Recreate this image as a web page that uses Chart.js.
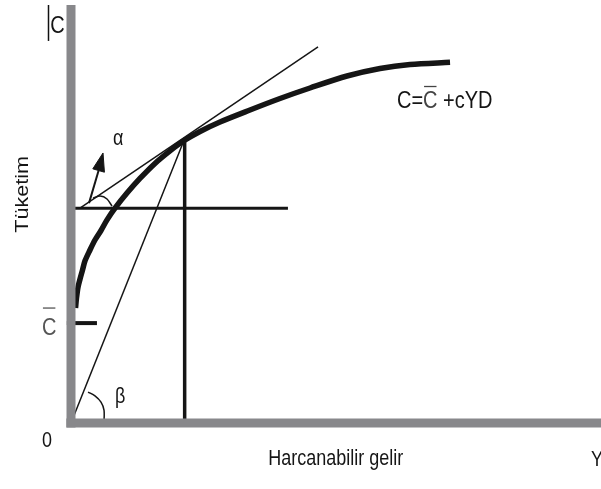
<!DOCTYPE html>
<html><head><meta charset="utf-8">
<script src="https://cdn.jsdelivr.net/npm/chart.js@4.4.0/dist/chart.umd.min.js"></script>
<style>html,body{margin:0;padding:0;background:#fff;}canvas{display:block;}</style>
</head><body>
<canvas id="c" width="601" height="489"></canvas>
<script>
// Consumption function C = C̄ + cYD  (x: disposable income YD, y: consumption C)
const curveYD = [0.87, 1.06, 1.35, 1.73, 2.22, 2.70, 3.66, 4.62, 5.78, 6.94, 8.48, 10.79, 13.29, 16.18, 19.08, 21.58, 24.86, 28.71, 34.49, 40.27, 46.05, 53.18, 59.54, 65.32, 73.03];
const curveC  = [27.5, 29.9, 32.5, 34.4, 36.6, 38.8, 41.4, 43.78, 46.05, 48.6, 51.4, 55.0, 58.5, 62.1, 65.1, 67.4, 69.74, 72.01, 74.88, 77.63, 80.14, 83.01, 84.81, 85.77, 86.29];
const tangentYD = [1.73, 47.6];
const tangentC  = [51.4, 90.0];
const rayYD = [0, 21.7];
const rayC  = [0, 67.4];
const dropYD = [21.9, 21.9];
const dropC  = [67.4, 0];
const levelYD = [0.2, 41.8];
const levelC  = [51.4, 51.4];
const autonomousYD = [-0.8, 5.0];
const autonomousC  = [23.9, 23.9];
const arrowYD = [3.47, 5.32];
const arrowC  = [52.6, 60.4];
const arrowHeadYD = [6.17, 4.20, 6.44, 6.17];
const arrowHeadC  = [64.6, 60.8, 60.0, 64.6];
const alphaArcYD = [4.24, 5.59, 6.94, 7.90];
const alphaArcC  = [53.8, 54.3, 53.6, 51.9];
const betaArcYD = [3.28, 4.62, 5.78, 6.36, 6.36];
const betaArcC  = [7.4, 6.5, 5.0, 3.1, 0.2];
const xAxisYD = [-0.9, 103];
const xAxisC  = [0, 0];
const yAxisYD = [0, 0];
const yAxisC  = [-1.1, 100];

// texts
const axisNames = ['C', 'Y', '0'];
const axisTitles = ['Tüketim', 'Harcanabilir gelir'];
const autonomousLabel = 'C';   // shown with an overbar: C̄
const angleLabels = ['α', 'β'];
const curveLabelParts = ['C=', 'C', ' +cYD'];

const pts = (xs, ys) => xs.map((x, i) => ({ x: x, y: ys[i] }));
const line = (xs, ys, color, width, extra) => Object.assign({
  data: pts(xs, ys), showLine: true, pointRadius: 0, borderColor: color,
  borderWidth: width, fill: false, clip: false, tension: 0
}, extra || {});

const GRAY = '#88888b', INK = '#151515';

const textPlugin = {
  id: 'texts',
  afterDatasetsDraw(chart) {
    const ctx = chart.ctx, sx = chart.scales.x, sy = chart.scales.y;
    const P = (x, y) => [sx.getPixelForValue(x), sy.getPixelForValue(y)];
    const txt = (s, x, y, size, color, stretch) => {
      const [px, py] = P(x, y);
      ctx.save();
      ctx.font = size + 'px "Liberation Sans", Arial, sans-serif';
      ctx.fillStyle = color; ctx.textBaseline = 'alphabetic'; ctx.textAlign = 'left';
      ctx.translate(px, py); ctx.scale(1, stretch || 1.2);
      ctx.fillText(s, 0, 0);
      const w = ctx.measureText(s).width;
      ctx.restore();
      return w;
    };
    // cursor-like bar before top C
    ctx.save(); ctx.strokeStyle = '#111'; ctx.lineWidth = 1.5;
    ctx.beginPath(); ctx.moveTo(48.5, sy.getPixelForValue(100)); ctx.lineTo(48.5, sy.getPixelForValue(91.4)); ctx.stroke(); ctx.restore();
    txt(axisNames[0], -4.0, 93.3, 20, INK);
    txt(axisNames[1], 100.2, -10.3, 18, INK);
    txt(axisNames[2], -5.6, -5.7, 18, INK);
    // rotated y title
    {
      const [px, py] = P(-8.3, 45.5);
      ctx.save();
      ctx.font = '18px "Liberation Sans", Arial, sans-serif';
      ctx.fillStyle = INK;
      ctx.translate(px, py); ctx.rotate(-Math.PI / 2); ctx.scale(1.2, 1);
      ctx.fillText(axisTitles[0], 0, 0);
      ctx.restore();
    }
    txt(axisTitles[1], 38.0, -10.0, 18, INK);
    // C̄ on the axis
    const wC = txt(autonomousLabel, -5.6, 21.05, 20, '#555');
    {
      const [px, py] = P(-5.6, 27.5);
      ctx.save(); ctx.strokeStyle = '#555'; ctx.lineWidth = 1.3;
      ctx.beginPath(); ctx.moveTo(px + 1, py); ctx.lineTo(px + wC - 1, py); ctx.stroke(); ctx.restore();
    }
    txt(angleLabels[0], 8.1, 66.5, 18, INK);
    txt(angleLabels[1], 8.5, 4.8, 18, INK);
    // curve equation
    const unit = sx.getPixelForValue(1) - sx.getPixelForValue(0);
    const w1 = txt(curveLabelParts[0], 62.8, 75.4, 20, INK);
    const x2 = 62.8 + w1 / unit;
    const w2 = txt(curveLabelParts[1], x2, 75.4, 20, '#444');
    const x3 = x2 + w2 / unit;
    txt(curveLabelParts[2], x3, 75.4, 20, INK);
    {
      const [px, py] = P(x2, 80.5);
      ctx.save(); ctx.strokeStyle = '#444'; ctx.lineWidth = 1.3;
      ctx.beginPath(); ctx.moveTo(px + 1, py); ctx.lineTo(px + w2 - 1, py); ctx.stroke(); ctx.restore();
    }
  }
};

new Chart(document.getElementById('c'), {
  type: 'scatter',
  data: {
    datasets: [
      line(yAxisYD, yAxisC, GRAY, 9),
      line(xAxisYD, xAxisC, GRAY, 9),
      line(levelYD, levelC, INK, 3),
      line(dropYD, dropC, INK, 3.5),
      line(rayYD, rayC, INK, 1.5),
      line(tangentYD, tangentC, INK, 1.5),
      line(autonomousYD, autonomousC, INK, 4),
      line(arrowYD, arrowC, INK, 2),
      line(arrowHeadYD, arrowHeadC, INK, 1, { fill: 'shape', backgroundColor: INK }),
      line(alphaArcYD, alphaArcC, INK, 1.5, { cubicInterpolationMode: 'monotone' }),
      line(betaArcYD, betaArcC, INK, 1.5, { tension: 0.3 }),
      line(curveYD, curveC, INK, 5.5, { tension: 0.3, borderJoinStyle: 'round' })
    ]
  },
  options: {
    responsive: false,
    animation: false,
    events: [],
    devicePixelRatio: 1,
    layout: { padding: { left: 71, right: 11, top: 5, bottom: 66 } },
    scales: {
      x: { type: 'linear', min: 0, max: 100, display: false },
      y: { type: 'linear', min: 0, max: 100, display: false }
    },
    plugins: { legend: { display: false }, tooltip: { enabled: false }, title: { display: false } }
  },
  plugins: [textPlugin]
});
</script>
</body></html>
